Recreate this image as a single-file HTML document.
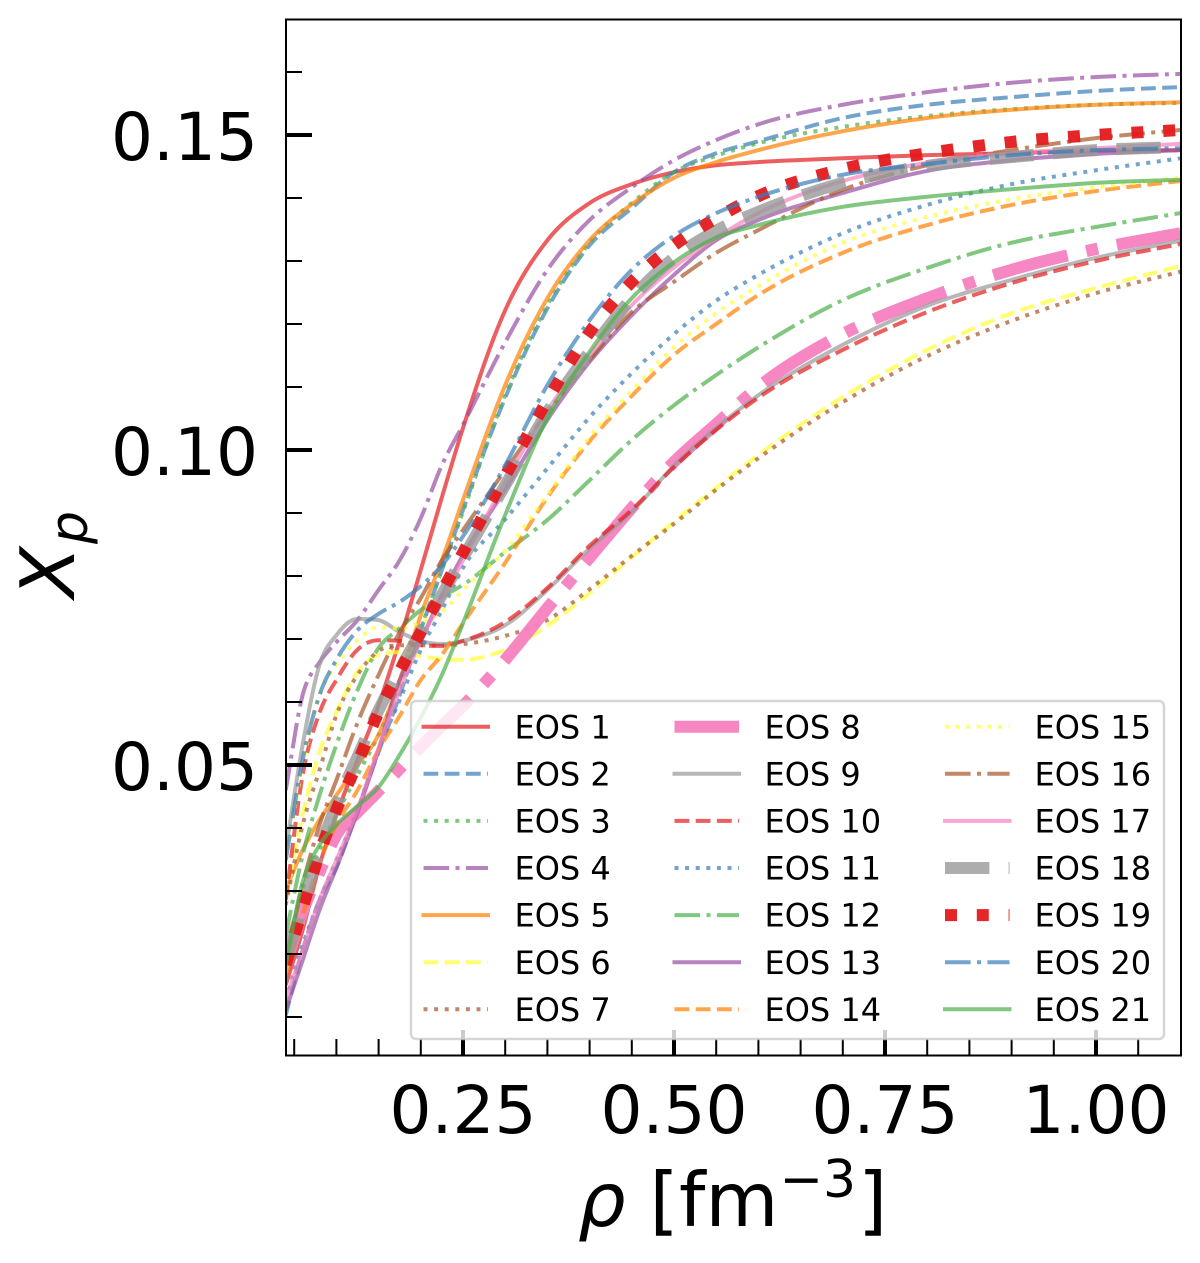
<!DOCTYPE html>
<html lang="en">
<head>
<meta charset="utf-8">
<title>Proton fraction versus density</title>
<style>
html,body{margin:0;padding:0;background:#fff;}
svg{display:block;}
text{font-family:"DejaVu Sans","Liberation Sans",sans-serif;fill:#000;}
</style>
</head>
<body>
<svg id="chart" xmlns="http://www.w3.org/2000/svg" width="1200" height="1263" viewBox="0 0 1200 1263">
  <defs><clipPath id="plot-clip"><rect x="286" y="19" width="895" height="1037"></rect></clipPath></defs>
  <g id="series-layer" clip-path="url(#plot-clip)"></g>
  <g id="tick-layer"></g>
  <g id="legend-layer"></g>
  <rect x="286" y="19.5" width="895" height="1036" fill="none" stroke="#000" stroke-width="2"></rect>
  <text transform="translate(74,598) rotate(-90)" font-size="75" font-style="italic">X</text>
  <text transform="translate(87,544) rotate(-90)" font-size="52" font-style="italic">p</text>
  <g>
    <text x="578" y="1226" font-size="75" font-style="italic">ρ</text>
    <text x="649.5" y="1226" font-size="75">[</text>
    <text x="679" y="1226" font-size="75">fm</text>
    <text x="779.5" y="1197" font-size="52">−</text>
    <text x="823" y="1197" font-size="52">3</text>
    <text x="858" y="1226" font-size="75">]</text>
  </g>
</svg>
<script>
const seriesNames = ["EOS 1","EOS 2","EOS 3","EOS 4","EOS 5","EOS 6","EOS 7","EOS 8","EOS 9","EOS 10","EOS 11","EOS 12","EOS 13","EOS 14","EOS 15","EOS 16","EOS 17","EOS 18","EOS 19","EOS 20","EOS 21"];
const xMajorTicks = [0.25,0.50,0.75,1.00];
const xMajorLabels = ["0.25","0.50","0.75","1.00"];
const xMinorTicks = [0.05,0.10,0.15,0.20,0.30,0.35,0.40,0.45,0.55,0.60,0.65,0.70,0.80,0.85,0.90,0.95,1.05];
const yMajorTicks = [0.05,0.10,0.15];
const yMajorLabels = ["0.05","0.10","0.15"];
const yMinorTicks = [0.01,0.02,0.03,0.04,0.06,0.07,0.08,0.09,0.11,0.12,0.13,0.14,0.16];

const rho = [0.04,0.06,0.08,0.10,0.125,0.15,0.175,0.20,0.225,0.25,0.30,0.35,0.40,0.45,0.50,0.55,0.60,0.70,0.80,0.90,1.00,1.10];

const eos1  = [0.0151,0.0238,0.0341,0.0421,0.0508,0.0595,0.0698,0.0810,0.0925,0.1035,0.1222,0.1333,0.1392,0.1422,0.1441,0.1452,0.1457,0.1463,0.1468,0.1471,0.1475,0.1476];
const eos2  = [0.0103,0.0206,0.0286,0.0337,0.0429,0.0521,0.0611,0.0714,0.0810,0.0905,0.1083,0.1225,0.1325,0.1384,0.1441,0.1471,0.1490,0.1527,0.1548,0.1560,0.1570,0.1576];
const eos3  = [0.0190,0.0302,0.0365,0.0421,0.0484,0.0548,0.0627,0.0717,0.0810,0.0902,0.1087,0.1230,0.1329,0.1392,0.1441,0.1467,0.1487,0.1513,0.1530,0.1541,0.1548,0.1551];
const eos4  = [0.0460,0.0611,0.0663,0.0695,0.0730,0.0778,0.0825,0.0892,0.0976,0.1040,0.1171,0.1286,0.1365,0.1417,0.1460,0.1492,0.1517,0.1548,0.1568,0.1583,0.1592,0.1597];
const eos5  = [0.0302,0.0365,0.0413,0.0452,0.0500,0.0548,0.0635,0.0738,0.0825,0.0921,0.1103,0.1241,0.1333,0.1390,0.1432,0.1457,0.1476,0.1506,0.1527,0.1540,0.1548,0.1552];
const eos6  = [0.0286,0.0421,0.0521,0.0584,0.0648,0.0675,0.0679,0.0673,0.0668,0.0667,0.0683,0.0721,0.0773,0.0830,0.0886,0.0940,0.0992,0.1084,0.1159,0.1217,0.1257,0.1292];
const eos7  = [0.0278,0.0405,0.0492,0.0579,0.0643,0.0681,0.0690,0.0690,0.0690,0.0692,0.0705,0.0730,0.0779,0.0832,0.0883,0.0937,0.0987,0.1076,0.1149,0.1205,0.1249,0.1283];
const eos8  = [0.0183,0.0267,0.0330,0.0389,0.0425,0.0459,0.0494,0.0529,0.0562,0.0594,0.0667,0.0749,0.0829,0.0908,0.0981,0.1041,0.1100,0.1184,0.1241,0.1286,0.1319,0.1344];
const eos9  = [0.0365,0.0532,0.0659,0.0706,0.0732,0.0730,0.0711,0.0697,0.0692,0.0697,0.0722,0.0778,0.0844,0.0902,0.0975,0.1035,0.1087,0.1167,0.1229,0.1270,0.1305,0.1332];
const eos10 = [0.0286,0.0484,0.0583,0.0635,0.0683,0.0698,0.0697,0.0690,0.0689,0.0697,0.0727,0.0781,0.0848,0.0905,0.0973,0.1032,0.1083,0.1159,0.1219,0.1265,0.1300,0.1327];
const eos11 = [0.0127,0.0214,0.0286,0.0349,0.0429,0.0524,0.0603,0.0683,0.0746,0.0813,0.0890,0.0971,0.1052,0.1122,0.1184,0.1237,0.1278,0.1344,0.1389,0.1422,0.1444,0.1463];
const eos12 = [0.0230,0.0357,0.0452,0.0532,0.0619,0.0686,0.0717,0.0746,0.0767,0.0786,0.0838,0.0889,0.0952,0.1016,0.1071,0.1119,0.1163,0.1238,0.1289,0.1329,0.1354,0.1376];
const eos13 = [0.0111,0.0190,0.0270,0.0337,0.0425,0.0524,0.0635,0.0698,0.0770,0.0833,0.0937,0.1048,0.1140,0.1214,0.1278,0.1333,0.1365,0.1408,0.1443,0.1460,0.1470,0.1476];
const eos14 = [0.0167,0.0262,0.0346,0.0405,0.0460,0.0524,0.0578,0.0635,0.0675,0.0725,0.0821,0.0925,0.1014,0.1086,0.1151,0.1200,0.1246,0.1313,0.1357,0.1389,0.1411,0.1427];
const eos15 = [0.0349,0.0500,0.0611,0.0659,0.0698,0.0719,0.0717,0.0727,0.0743,0.0778,0.0840,0.0929,0.1021,0.1094,0.1163,0.1217,0.1260,0.1329,0.1370,0.1398,0.1417,0.1432];
const eos16 = [0.0190,0.0310,0.0405,0.0476,0.0567,0.0643,0.0711,0.0765,0.0825,0.0873,0.0968,0.1060,0.1143,0.1219,0.1267,0.1313,0.1349,0.1413,0.1452,0.1476,0.1495,0.1508];
const eos17 = [0.0127,0.0206,0.0286,0.0349,0.0429,0.0527,0.0619,0.0698,0.0762,0.0825,0.0949,0.1063,0.1151,0.1230,0.1290,0.1337,0.1376,0.1427,0.1456,0.1471,0.1479,0.1486];
const eos18 = [0.0190,0.0278,0.0365,0.0437,0.0513,0.0587,0.0651,0.0711,0.0770,0.0829,0.0944,0.1060,0.1156,0.1241,0.1305,0.1348,0.1378,0.1424,0.1451,0.1465,0.1476,0.1481];
const eos19 = [0.0183,0.0273,0.0360,0.0429,0.0503,0.0584,0.0649,0.0711,0.0775,0.0837,0.0959,0.1079,0.1187,0.1267,0.1325,0.1368,0.1403,0.1446,0.1471,0.1489,0.1500,0.1508];
const eos20 = [0.0349,0.0508,0.0611,0.0667,0.0714,0.0740,0.0759,0.0784,0.0817,0.0863,0.0976,0.1103,0.1206,0.1286,0.1340,0.1376,0.1402,0.1437,0.1454,0.1468,0.1476,0.1479];
const eos21 = [0.0183,0.0314,0.0373,0.0405,0.0435,0.0465,0.0516,0.0575,0.0643,0.0725,0.0897,0.1051,0.1156,0.1241,0.1298,0.1337,0.1357,0.1386,0.1402,0.1414,0.1424,0.1429];
const seriesValues = [eos1,eos2,eos3,eos4,eos5,eos6,eos7,eos8,eos9,eos10,eos11,eos12,eos13,eos14,eos15,eos16,eos17,eos18,eos19,eos20,eos21];

const palette = ["#e41a1c","#377eb8","#4daf4a","#984ea3","#ff7f00","#ffff33","#a65628","#f781bf","#999999"];
const dashUnits = [null,[3.7,1.6],[1,1.65],[6.4,1.6,1,1.6]];
const thickSeries = ["EOS 8","EOS 18","EOS 19"];

const SVG_NS = "http://www.w3.org/2000/svg";
function xScale(v){ return 463 + (v - 0.25) * 844; }
function yScale(v){ return 450 - (v - 0.10) * 6300; }
function make(tag, attrs, parent){
  const el = document.createElementNS(SVG_NS, tag);
  for (const k in attrs) el.setAttribute(k, attrs[k]);
  parent.appendChild(el);
  return el;
}
function smoothPath(xs, ys){
  const n = xs.length, d = [], m = [];
  for (let i = 0; i < n - 1; i++) d.push((ys[i+1] - ys[i]) / (xs[i+1] - xs[i]));
  m[0] = d[0]; m[n-1] = d[n-2];
  for (let i = 1; i < n - 1; i++) {
    if (d[i-1] * d[i] <= 0) { m[i] = 0; continue; }
    const h0 = xs[i] - xs[i-1], h1 = xs[i+1] - xs[i];
    const t = (h1 * d[i-1] + h0 * d[i]) / (h0 + h1);
    const limit = 3 * Math.min(Math.abs(d[i-1]), Math.abs(d[i]));
    m[i] = Math.sign(t) * Math.min(Math.abs(t), limit);
  }
  let out = "M" + xs[0].toFixed(2) + " " + ys[0].toFixed(2);
  for (let i = 0; i < n - 1; i++) {
    const h = (xs[i+1] - xs[i]) / 3;
    out += "C" + (xs[i] + h).toFixed(2) + " " + (ys[i] + m[i] * h).toFixed(2) + " " +
      (xs[i+1] - h).toFixed(2) + " " + (ys[i+1] - m[i+1] * h).toFixed(2) + " " +
      xs[i+1].toFixed(2) + " " + ys[i+1].toFixed(2);
  }
  return out;
}
function styleFor(i){
  const thick = thickSeries.includes(seriesNames[i]);
  const lw = thick ? 12 : 4;
  const units = dashUnits[i % 4];
  return {
    color: palette[i % 9],
    lw: lw,
    opacity: thick ? (seriesNames[i] === "EOS 18" ? 0.8 : 0.95) : 0.7,
    dash: units ? units.map(function(u){ return (u * lw).toFixed(2); }).join(" ") : "none",
    solid: !units
  };
}

const seriesLayer = document.getElementById("series-layer");
const tickLayer = document.getElementById("tick-layer");
const legendLayer = document.getElementById("legend-layer");

seriesValues.forEach(function(vals, i){
  const s = styleFor(i);
  const path = make("path", {
    d: smoothPath(rho.map(xScale), vals.map(yScale)),
    fill: "none", stroke: s.color, "stroke-width": s.lw, "stroke-opacity": s.opacity,
    "stroke-dasharray": s.dash, "stroke-linecap": "butt", "stroke-linejoin": "round"
  }, seriesLayer);
  
  
});

xMinorTicks.forEach(function(v){
  const t = make("line", {x1:xScale(v), x2:xScale(v), y1:1055, y2:1039, stroke:"#000", "stroke-width":2}, tickLayer);
  
  
});
yMinorTicks.forEach(function(v){
  const t = make("line", {x1:286, x2:302, y1:yScale(v), y2:yScale(v), stroke:"#000", "stroke-width":2}, tickLayer);
  
  
});
xMajorTicks.forEach(function(v, i){
  const t = make("line", {x1:xScale(v), x2:xScale(v), y1:1055, y2:1030, stroke:"#000", "stroke-width":4}, tickLayer);
  
  
  const lab = make("text", {x:xScale(v), y:1133, "font-size":66, "text-anchor":"middle"}, tickLayer);
  lab.textContent = xMajorLabels[i];
  
  
});
yMajorTicks.forEach(function(v, i){
  const t = make("line", {x1:286, x2:312, y1:yScale(v), y2:yScale(v), stroke:"#000", "stroke-width":4}, tickLayer);
  
  
  const lab = make("text", {x:258, y:yScale(v) + 25, "font-size":66, "text-anchor":"end"}, tickLayer);
  lab.textContent = yMajorLabels[i];
  
  
});

const frame = make("rect", {x:411, y:701, width:753, height:338, rx:5, ry:5, fill:"#fff", "fill-opacity":0.8, stroke:"#ccc", "stroke-opacity":0.8, "stroke-width":2.5}, legendLayer);



const legendHandleX = [423.5, 674.5, 945];
const legendTextX = [514.5, 764.5, 1034.5];
seriesNames.forEach(function(name, i){
  const col = Math.floor(i / 7), row = i % 7, y = 726.7 + row * 47.1;
  const s = styleFor(i);
  const handle = make("line", {
    x1:legendHandleX[col], x2:legendHandleX[col] + 64.5, y1:y, y2:y,
    stroke:s.color, "stroke-width":s.lw, "stroke-opacity":s.opacity,
    "stroke-dasharray":s.dash, "stroke-linecap": s.solid ? "square" : "butt"
  }, legendLayer);
  
  
  const label = make("text", {x:legendTextX[col], y:y + 11.6, "font-size":32}, legendLayer);
  label.textContent = name;
  
  
});
</script>
</body>
</html>
